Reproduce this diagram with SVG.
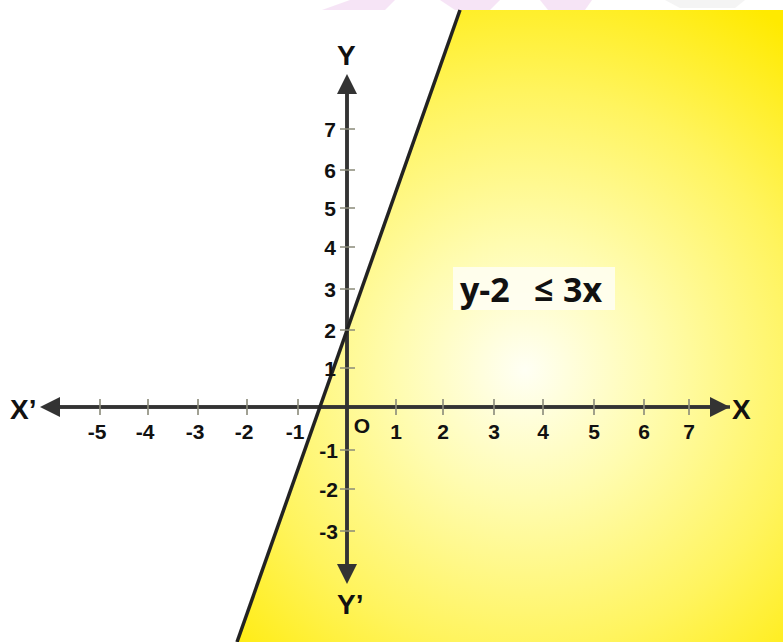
<svg xmlns="http://www.w3.org/2000/svg" width="783" height="642" viewBox="0 0 783 642">
  <defs>
    <radialGradient id="glow" gradientUnits="userSpaceOnUse" cx="525" cy="370" r="430">
      <stop offset="0" stop-color="#FFFFF4"/>
      <stop offset="0.3" stop-color="#FFFCB0"/>
      <stop offset="0.65" stop-color="#FFF45E"/>
      <stop offset="1" stop-color="#FFEA00"/>
    </radialGradient>
    <marker id="arr" viewBox="0 0 20 20" refX="2" refY="10" markerWidth="20" markerHeight="20" markerUnits="userSpaceOnUse" orient="auto">
      <path d="M0,0 L20,10 L0,20 Z" fill="#333"/>
    </marker>
  </defs>
  <style>
    .axis { stroke: #333; stroke-width: 3.5; fill: none; }
    .tick { stroke: #8a8a7a; stroke-width: 1.6; }
    .num { font-family: "Liberation Sans", Arial, sans-serif; font-weight: bold; font-size: 21px; fill: #111; }
    .ax { font-family: "Liberation Sans", Arial, sans-serif; font-weight: bold; font-size: 28px; fill: #111; }
    .eq { font-family: "Open Sans", "DejaVu Sans", sans-serif; font-weight: bold; font-size: 34px; fill: #111; }
  </style>
  <rect width="783" height="642" fill="#fff"/>
  <g id="watermark" opacity="0.22">
    <path d="M322,10 L350,0 L395,0 L385,10 Z" fill="#d98ad8"/>
    <path d="M440,0 L500,0 L490,10 L455,10 Z" fill="#d98ad8"/>
    <path d="M540,0 L592,0 L585,10 L548,10 Z" fill="#d98ad8"/>
    <path d="M665,0 L745,0 L735,8 L680,8 Z" fill="#cfcfcf"/>
  </g>
  <g id="region">
    <polygon points="459,10 783,10 783,642 237,642" fill="url(#glow)"/>
  </g>
  <g id="connectors">
    <line class="axis" x1="730" y1="407" x2="58" y2="407" marker-end="url(#arr)"/>
    <line class="axis" x1="58" y1="407" x2="712" y2="407" marker-end="url(#arr)"/>
    <line class="axis" x1="347" y1="566" x2="347" y2="92" marker-end="url(#arr)"/>
    <line class="axis" x1="347" y1="92" x2="347" y2="566" marker-end="url(#arr)"/>
    <line id="boundary" x1="460" y1="10" x2="237" y2="642" stroke="#222" stroke-width="3.5"/>
  </g>
  <g id="ticks">
    <path class="tick" d="M100,399V415 M148,399V415 M198,399V415 M247,399V415 M298,399V415 M396,399V415 M443,399V415 M494,399V415 M543,399V415 M594,399V415 M644,399V415 M689,399V415"/>
    <path class="tick" d="M340,129H355 M340,170H355 M340,208H355 M340,247H355 M340,289H355 M340,330H355 M340,368H355 M340,450H355 M340,489H355 M340,531H355"/>
  </g>
  <g id="x-labels" class="num" text-anchor="middle">
    <text x="97" y="439">-5</text>
    <text x="145" y="439">-4</text>
    <text x="195" y="439">-3</text>
    <text x="244" y="439">-2</text>
    <text x="295" y="439">-1</text>
    <text x="396" y="439">1</text>
    <text x="443" y="439">2</text>
    <text x="494" y="439">3</text>
    <text x="543" y="439">4</text>
    <text x="594" y="439">5</text>
    <text x="644" y="439">6</text>
    <text x="689" y="439">7</text>
    <text x="362" y="433">O</text>
  </g>
  <g id="y-labels" class="num" text-anchor="end">
    <text x="336" y="137">7</text>
    <text x="336" y="178">6</text>
    <text x="336" y="216">5</text>
    <text x="336" y="255">4</text>
    <text x="336" y="297">3</text>
    <text x="336" y="338">2</text>
    <text x="336" y="376">1</text>
    <text x="338" y="458">-1</text>
    <text x="338" y="497">-2</text>
    <text x="338" y="539">-3</text>
  </g>
  <g id="axis-labels" class="ax">
    <text x="10" y="419">X’</text>
    <text x="732" y="419">X</text>
    <text x="337" y="65">Y</text>
    <text x="337" y="614">Y’</text>
  </g>
  <g id="equation">
    <rect x="453" y="267" width="162" height="43" fill="#fffef4" opacity="0.85"/>
    <text class="eq" x="460" y="302">y-2</text>
    <text class="eq" x="534" y="301" font-size="24">≤</text>
    <text class="eq" x="563" y="302">3x</text>
  </g>
</svg>
